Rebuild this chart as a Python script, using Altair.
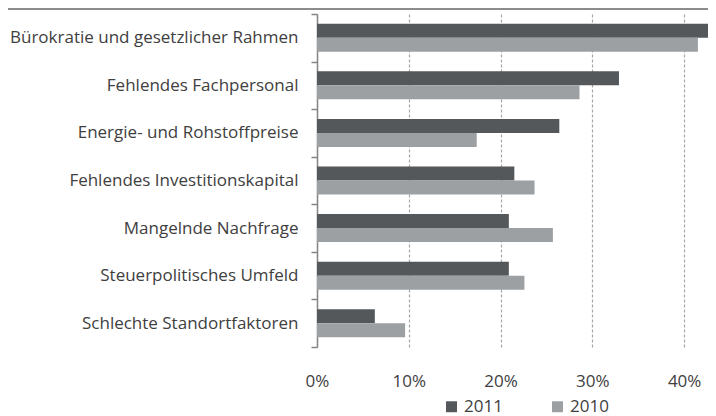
import altair as alt
import pandas as pd

categories = [
    "Bürokratie und gesetzlicher Rahmen",
    "Fehlendes Fachpersonal",
    "Energie- und Rohstoffpreise",
    "Fehlendes Investitionskapital",
    "Mangelnde Nachfrage",
    "Steuerpolitisches Umfeld",
    "Schlechte Standortfaktoren",
]
values_2011 = [0.435, 0.329, 0.264, 0.215, 0.209, 0.209, 0.063]
values_2010 = [0.415, 0.286, 0.174, 0.237, 0.257, 0.226, 0.096]
years = ["2011", "2010"]
x_ticks = [0, 0.1, 0.2, 0.3, 0.4]

rows = []
for c, a, b in zip(categories, values_2011, values_2010):
    rows.append({"cat": c, "year": "2011", "val": a})
    rows.append({"cat": c, "year": "2010", "val": b})
df = pd.DataFrame(rows)

FONT = "Open Sans"
TXT = "#404040"

bars = alt.Chart(df).mark_bar(clip=True).encode(
    y=alt.Y("cat:N", sort=categories, title=None,
            scale=alt.Scale(paddingInner=0, paddingOuter=0),
            axis=alt.Axis(tickBand="extent", tickSize=6, labelPadding=13,
                          domainColor="#868686", domainWidth=1.5,
                          tickColor="#868686", tickWidth=1.5,
                          labelFontSize=17, labelColor=TXT, labelFont=FONT,
                          labelLimit=400, grid=False)),
    yOffset=alt.YOffset("year:N", sort=years,
                        scale=alt.Scale(paddingInner=0, paddingOuter=0.7)),
    x=alt.X("val:Q", title=None,
            scale=alt.Scale(domain=[0, 0.426], nice=False, zero=True),
            axis=alt.Axis(values=x_ticks, format=".0%", grid=True,
                          gridDash=[3, 2], gridColor="#a6a6a6", gridWidth=1.2,
                          domain=False, ticks=False, labelPadding=26,
                          labelFlush=False,
                          labelFontSize=17, labelColor=TXT, labelFont=FONT)),
    color=alt.Color("year:N", sort=years,
                    scale=alt.Scale(domain=years, range=["#54585b", "#9da0a3"]),
                    legend=alt.Legend(title=None, orient="none", direction="horizontal",
                                      legendX=126, legendY=384, symbolType="square",
                                      symbolSize=120, symbolStrokeWidth=0,
                                      labelFontSize=17, labelFont=FONT, labelColor=TXT,
                                      columnPadding=46, symbolOffset=0,
                                      labelOffset=4)),
)

top_line = alt.Chart(pd.DataFrame({"d": [0]})).mark_rule(
    color="#8c8c8c", strokeWidth=2
).encode(x=alt.value(-309), x2=alt.value(391), y=alt.value(-5))

chart = alt.layer(bars, top_line).properties(
    width=391, height=333,
    padding={"left": 309, "top": 6, "right": 0, "bottom": 69},
    autosize=alt.AutoSizeParams(type="none"),
).configure_view(stroke=None)

chart.save("out.html", embed_options={"renderer": "svg", "actions": False})
